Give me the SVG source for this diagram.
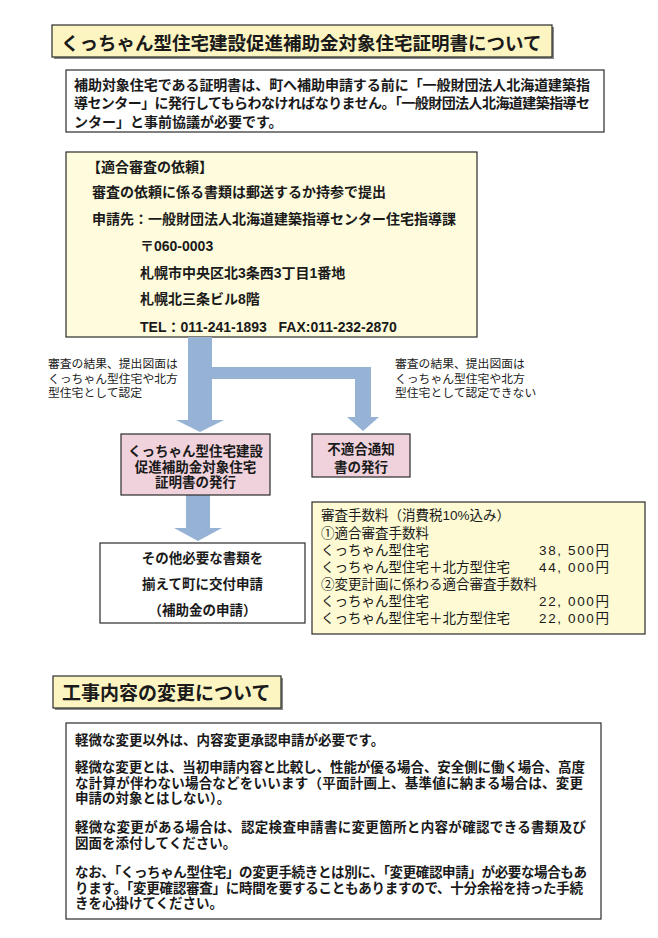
<svg xmlns="http://www.w3.org/2000/svg" width="658" height="938" viewBox="0 0 658 938">
<style>
text{font-family:"Liberation Sans","Noto Sans CJK JP",sans-serif;fill:#1a1a1a}
.b{font-weight:700}
.t1{font-size:18.5px;font-weight:700}
.t2{font-size:19px;font-weight:700}
.p14{font-size:14px;font-weight:700}
.p135{font-size:13.5px;font-weight:700}
.lbl{font-size:11.8px}
.fee{font-size:13.5px}
.c{text-anchor:middle}
.e{text-anchor:end}
.box{stroke:#2b2b2b;stroke-width:1.2}
.shadow{fill:#8a8a8a}
.arrow{fill:#96b3d6}
</style>
<rect width="658" height="938" fill="#ffffff"/>

<g id="title1">
<rect class="shadow" x="54" y="27" width="500" height="32"/>
<rect class="box" x="52" y="25" width="500" height="32" fill="#fcf5c2"/>
<text class="t1" x="61" y="50">くっちゃん型住宅建設促進補助金対象住宅証明書について</text>
</g>

<g id="intro">
<rect class="box" x="66" y="70" width="538" height="62" fill="#ffffff"/>
<text class="p14" x="74" y="89.5" textLength="516" lengthAdjust="spacing">補助対象住宅である証明書は、町へ補助申請する前に「一般財団法人北海道建築指</text>
<text class="p14" x="74" y="108" textLength="516" lengthAdjust="spacing">導センター」に発行してもらわなければなりません。「一般財団法人北海道建築指導セ</text>
<text class="p14" x="74" y="126.5">ンター」と事前協議が必要です。</text>
</g>

<g id="request">
<rect class="box" x="66" y="152" width="411" height="185" fill="#fefcdc"/>
<text class="p14" x="87" y="172">【適合審査の依頼】</text>
<text class="p14" x="92" y="197">審査の依頼に係る書類は郵送するか持参で提出</text>
<text class="p14" x="92" y="224">申請先：一般財団法人北海道建築指導センター住宅指導課</text>
<text class="p14" x="140" y="251">〒060-0003</text>
<text class="p14" x="140" y="278">札幌市中央区北3条西3丁目1番地</text>
<text class="p14" x="140" y="304">札幌北三条ビル8階</text>
<text class="p14" x="140" y="332">TEL：011-241-1893&#160;&#160;&#160;FAX:011-232-2870</text>
</g>

<g id="connectors">
<polygon class="arrow" points="188,337 212,337 212,367 371,367 371,417 379,417 363,431 347,417 355,417 355,379 212,379 212,420 224,420 200,432 176,420 188,420"/>
<polygon class="arrow" points="186,495 210,495 210,528 222,528 198,541 174,528 186,528"/>
<g id="label-left">
<text class="lbl" x="48" y="368">審査の結果、提出図面は</text>
<text class="lbl" x="48" y="383">くっちゃん型住宅や北方</text>
<text class="lbl" x="48" y="397">型住宅として認定</text>
</g>
<g id="label-right">
<text class="lbl" x="395" y="368">審査の結果、提出図面は</text>
<text class="lbl" x="395" y="383">くっちゃん型住宅や北方</text>
<text class="lbl" x="395" y="397">型住宅として認定できない</text>
</g>
</g>

<g id="certificate">
<rect class="box" x="121" y="434" width="149" height="61" fill="#f0d2dc"/>
<text class="p135 c" x="195.5" y="456">くっちゃん型住宅建設</text>
<text class="p135 c" x="195.5" y="472">促進補助金対象住宅</text>
<text class="p135 c" x="195.5" y="487">証明書の発行</text>
</g>

<g id="rejection">
<rect class="box" x="312" y="434" width="98" height="43" fill="#f0d2dc"/>
<text class="p135 c" x="361" y="454">不適合通知</text>
<text class="p135 c" x="361" y="472">書の発行</text>
</g>

<g id="apply">
<rect class="box" x="100" y="543" width="205" height="80" fill="#ffffff"/>
<text class="p135 c" x="202.5" y="563">その他必要な書類を</text>
<text class="p135 c" x="202.5" y="589">揃えて町に交付申請</text>
<text class="p135 c" x="202.5" y="615">（補助金の申請）</text>
</g>

<g id="fees">
<rect class="box" x="312" y="502" width="333" height="132" fill="#fdfad4"/>
<text class="fee" x="321" y="520">審査手数料（消費税10%込み）</text>
<text class="fee" x="321" y="538">①適合審査手数料</text>
<text class="fee" x="321" y="555">くっちゃん型住宅</text>
<text class="fee e" x="609" y="555" textLength="70" lengthAdjust="spacing">38, 500円</text>
<text class="fee" x="321" y="572">くっちゃん型住宅＋北方型住宅</text>
<text class="fee e" x="609" y="572" textLength="70" lengthAdjust="spacing">44, 000円</text>
<text class="fee" x="321" y="589">②変更計画に係わる適合審査手数料</text>
<text class="fee" x="321" y="606">くっちゃん型住宅</text>
<text class="fee e" x="609" y="606" textLength="70" lengthAdjust="spacing">22, 000円</text>
<text class="fee" x="321" y="623">くっちゃん型住宅＋北方型住宅</text>
<text class="fee e" x="609" y="623" textLength="70" lengthAdjust="spacing">22, 000円</text>
</g>

<g id="title2">
<rect class="shadow" x="55" y="678" width="228" height="32"/>
<rect class="box" x="53" y="676" width="228" height="32" fill="#fcf5c2"/>
<text class="t2" x="62" y="700">工事内容の変更について</text>
</g>

<g id="changes">
<rect class="box" x="66" y="723" width="535" height="196" fill="#ffffff"/>
<text class="p135" x="75" y="745">軽微な変更以外は、内容変更承認申請が必要です。</text>
<text class="p135" x="75" y="772" textLength="510" lengthAdjust="spacing">軽微な変更とは、当初申請内容と比較し、性能が優る場合、安全側に働く場合、高度</text>
<text class="p135" x="75" y="788" textLength="508" lengthAdjust="spacing">な計算が伴わない場合などをいいます（平面計画上、基準値に納まる場合は、変更</text>
<text class="p135" x="75" y="803">申請の対象とはしない）。</text>
<text class="p135" x="75" y="832" textLength="511" lengthAdjust="spacing">軽微な変更がある場合は、認定検査申請書に変更箇所と内容が確認できる書類及び</text>
<text class="p135" x="75" y="848">図面を添付してください。</text>
<text class="p135" x="75" y="877" textLength="512" lengthAdjust="spacing">なお、「くっちゃん型住宅」の変更手続きとは別に、「変更確認申請」が必要な場合もあ</text>
<text class="p135" x="75" y="893" textLength="508" lengthAdjust="spacing">ります。「変更確認審査」に時間を要することもありますので、十分余裕を持った手続</text>
<text class="p135" x="75" y="908">きを心掛けてください。</text>
</g>
</svg>
